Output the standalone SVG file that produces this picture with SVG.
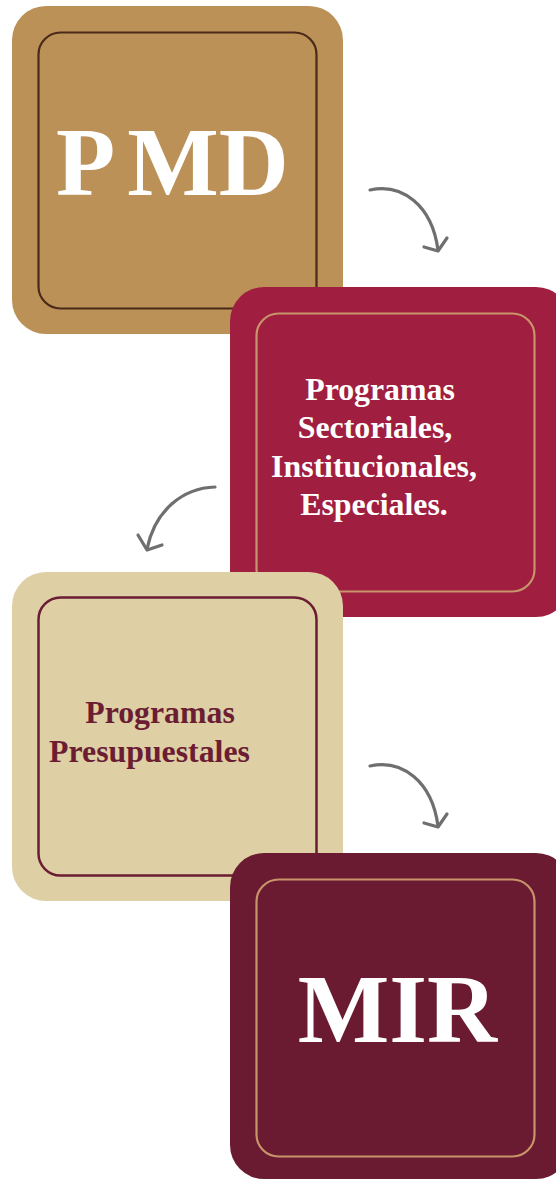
<svg xmlns="http://www.w3.org/2000/svg" width="556" height="1179" viewBox="0 0 556 1179">
<style>
.lbl{font-family:"Liberation Serif","Times New Roman",serif;font-weight:bold}
.arr{fill:none;stroke:#6f6f6f;stroke-width:3.2;stroke-linecap:round;stroke-linejoin:round}
</style>
<rect width="556" height="1179" fill="#ffffff"/>
<g id="node-pmd">
<rect x="12" y="6" width="331" height="328" rx="34" fill="#bb9158"/>
<rect x="38.5" y="32.5" width="278" height="276" rx="22" fill="none" stroke="#4a2a18" stroke-width="2.2"/>
<text class="lbl" x="56" y="195" font-size="97" fill="#ffffff" word-spacing="-7">P MD</text>
</g>
<g id="node-sectoriales">
<rect x="230" y="287" width="340" height="330" rx="34" fill="#a01f40"/>
<rect x="256.5" y="313.5" width="278" height="278" rx="22" fill="none" stroke="#c8946a" stroke-width="2.2"/>
<g class="lbl" font-size="31.8" fill="#ffffff" text-anchor="middle">
<text x="380" y="400">Programas</text>
<text x="375" y="438">Sectoriales,</text>
<text x="374" y="477">Institucionales,</text>
<text x="374" y="515">Especiales.</text>
</g>
</g>
<g id="node-presupuestales">
<rect x="12" y="572" width="331" height="329" rx="34" fill="#decfa4"/>
<rect x="38.5" y="597.5" width="278" height="278" rx="22" fill="none" stroke="#6b1e33" stroke-width="2.5"/>
<g class="lbl" font-size="31.8" fill="#6b1d33" text-anchor="middle">
<text x="160" y="723">Programas</text>
<text x="149.5" y="762">Presupuestales</text>
</g>
</g>
<g id="node-mir">
<rect x="230" y="853" width="340" height="326" rx="34" fill="#6a1b31"/>
<rect x="256.5" y="879.5" width="278" height="277" rx="22" fill="none" stroke="#c8946a" stroke-width="2.2"/>
<text class="lbl" x="397.5" y="1042" font-size="97" fill="#ffffff" text-anchor="middle">MIR</text>
</g>
<g id="connectors">
<path class="arr" d="M370,190 C402,183 432,205 438,250"/>
<path class="arr" d="M424,247 L438,251 L447,238"/>
<path class="arr" d="M215,487 C183,488 155,510 147,549"/>
<path class="arr" d="M138,535 L147,550 L162,545"/>
<path class="arr" d="M370,766 C402,759 432,781 438,826"/>
<path class="arr" d="M424,823 L438,827 L447,814"/>
</g>
</svg>
